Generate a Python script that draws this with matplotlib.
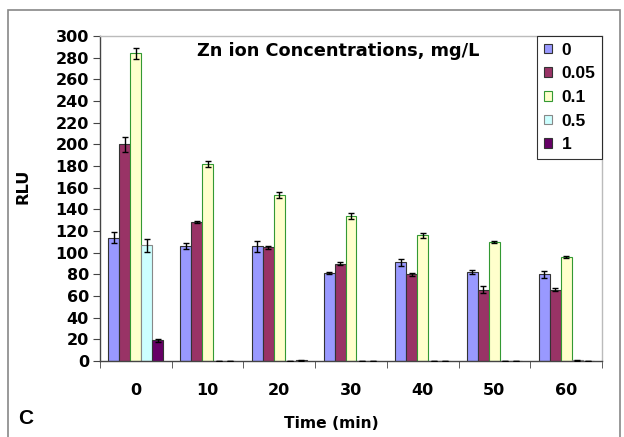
import matplotlib
matplotlib.use("Agg")
import matplotlib.pyplot as plt
import numpy as np
from matplotlib.patches import Rectangle

times = ["0", "10", "20", "30", "40", "50", "60"]
series_names = ["0", "0.05", "0.1", "0.5", "1"]
v_0 = [114, 106, 106, 81, 91, 82, 80]
v_005 = [200, 128, 105, 90, 80, 66, 66]
v_01 = [284, 182, 153, 134, 116, 110, 96]
v_05 = [107, 0, 0, 0, 0, 0, 0.5]
v_1 = [19, 0, 0.5, 0, 0, 0, 0]
e_0 = [5, 3, 5, 1, 3, 2, 3]
e_005 = [7, 1, 1.5, 1, 1.5, 3, 1]
e_01 = [5, 3, 3, 3, 2, 1, 1]
e_05 = [6, 0.3, 0.3, 0.3, 0.3, 0.3, 0.5]
e_1 = [1, 0.3, 0.5, 0.3, 0.3, 0.3, 0.3]

values = [v_0, v_005, v_01, v_05, v_1]
errors = [e_0, e_005, e_01, e_05, e_1]
faces = ["#9999FF", "#993366", "#FFFFCC", "#CCFFFF", "#660066"]
edges = ["#333333", "#333333", "#339933", "#888888", "#333333"]

WIDE = ['DejaVu Sans']
NARROW = ['Liberation Sans', 'DejaVu Sans']
plt.rcParams['font.family'] = WIDE
fig = plt.figure(figsize=(6.24, 4.37), dpi=100)
fig.patches.append(Rectangle((8/624, -0.01), (620-8)/624, (437-10)/437 + 0.01,
                             transform=fig.transFigure, fill=False,
                             edgecolor="#888888", linewidth=1.2))
ax = fig.add_axes([100/624, 1 - 361/437, 502/624, 325/437])

x = np.arange(len(times))
w = 0.153
for i, (vals, errs) in enumerate(zip(values, errors)):
    pos = x + (i - 2) * w
    ax.bar(pos, vals, width=w, color=faces[i], edgecolor=edges[i],
           linewidth=0.8, label=series_names[i], zorder=2)
    ax.errorbar(pos, vals, yerr=errs, fmt="none", ecolor="black",
                elinewidth=1.0, capsize=2.5, capthick=1.0, zorder=3)

ax.set_xlim(-0.5, len(times) - 0.5)
ax.set_ylim(0, 300)
ax.set_yticks(np.arange(0, 301, 20))
ax.set_yticklabels([str(v) for v in range(0, 301, 20)], fontsize=11.5,
                   fontweight="bold", family=WIDE)
ax.set_xticks(x)
ax.set_xticklabels(times, fontsize=11.5, fontweight="bold", family=WIDE)
ax.tick_params(axis="x", length=0, pad=16)
ax.set_xticks(np.arange(-0.5, len(times)), minor=True)
ax.tick_params(axis="x", which="minor", length=5, color="#444444")
ax.tick_params(axis="y", length=5, color="#444444", pad=3)

for s in ["top", "right"]:
    ax.spines[s].set_color("#BBBBBB")
    ax.spines[s].set_linewidth(1.0)
for s in ["left", "bottom"]:
    ax.spines[s].set_color("#444444")
    ax.spines[s].set_linewidth(1.0)

fig.text(23/624, 1 - 186/437, "RLU", rotation=90, fontsize=11.7,
         fontweight="bold", ha="center", va="center", family=WIDE)
fig.text(331/624, 1 - 424/437, "Time (min)", fontsize=11.2,
         fontweight="bold", ha="center", va="center", family=WIDE)
ax.text(0.474, 0.954, "Zn ion Concentrations, mg/L", transform=ax.transAxes,
        ha="center", va="center", fontsize=12.8, fontweight="bold", family=WIDE)

leg = ax.legend(loc="upper right", bbox_to_anchor=(1.0, 1.0),
                prop={"weight": "bold", "size": 12.5, "family": NARROW},
                frameon=True, fancybox=False,
                edgecolor="black", handlelength=0.48, handleheight=0.48,
                handletextpad=0.55, labelspacing=0.5, borderpad=0.38,
                borderaxespad=0.0)
leg.get_frame().set_linewidth(0.8)

fig.text(26/624, 1 - 419/437, "C", fontsize=15, fontweight="bold",
         ha="center", va="center", family=NARROW)

fig.savefig("out.png", dpi=100)
